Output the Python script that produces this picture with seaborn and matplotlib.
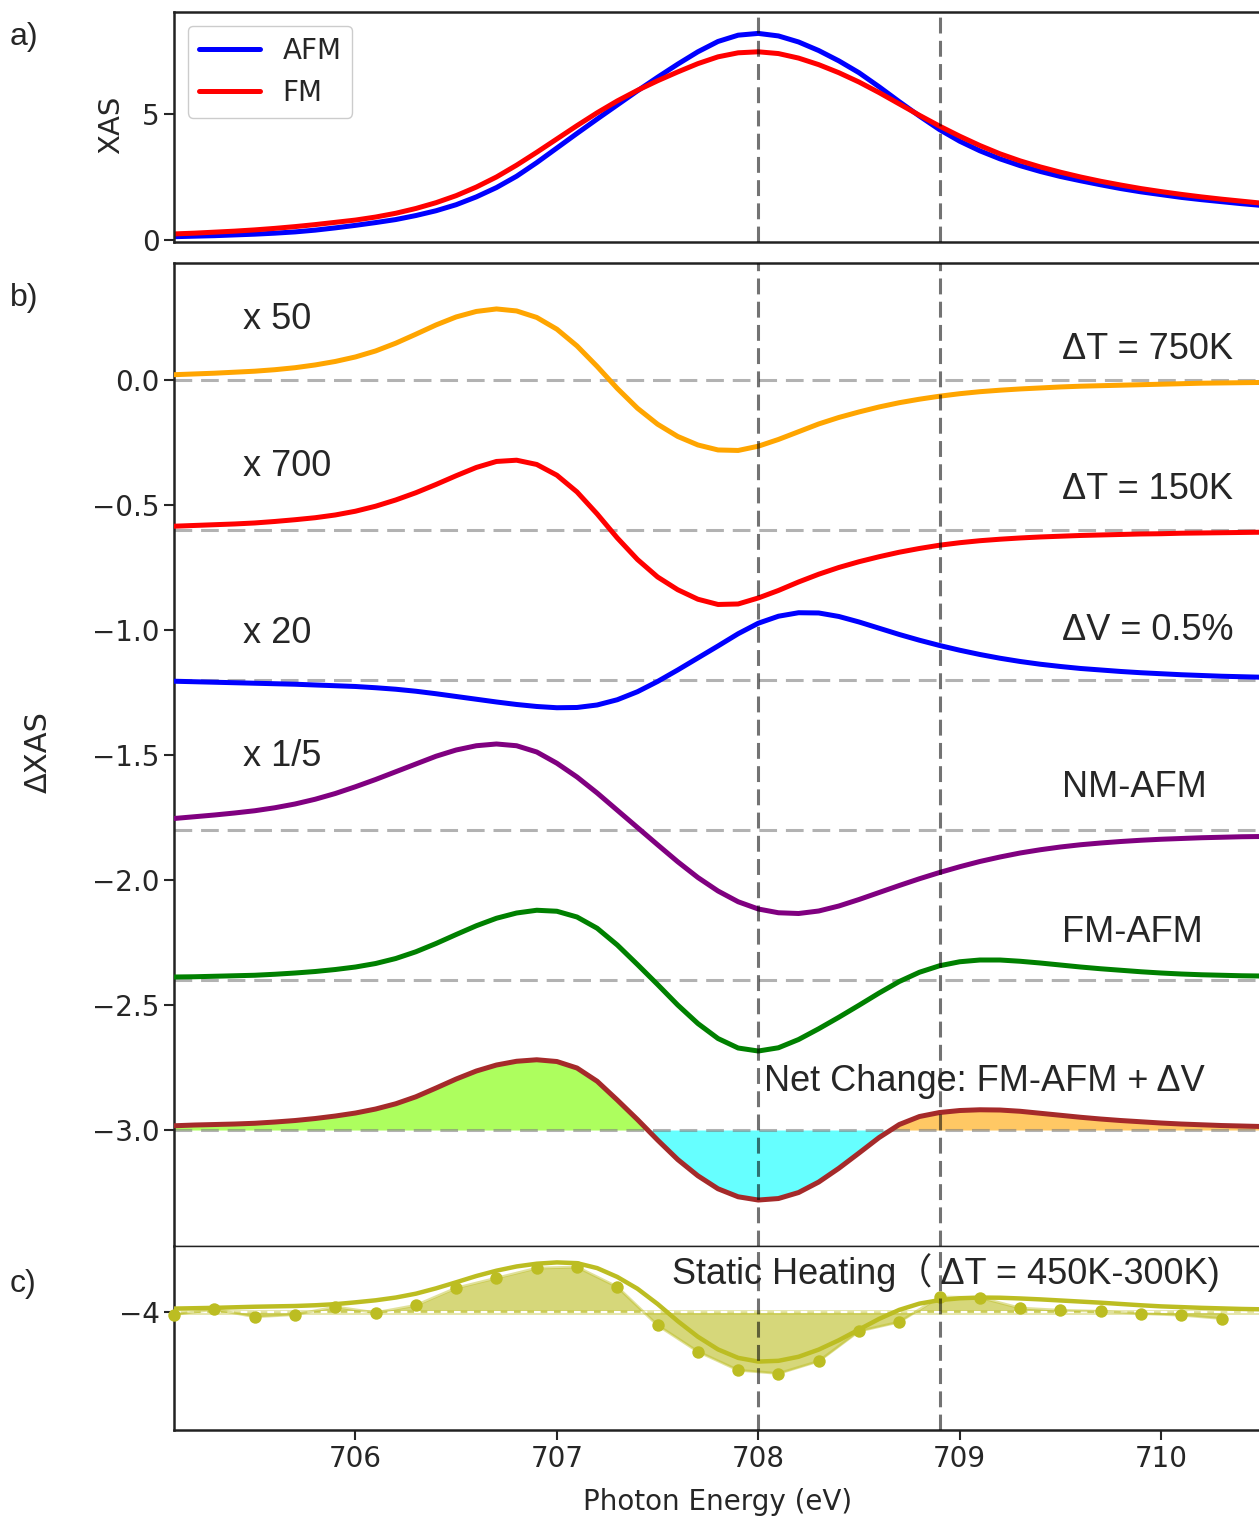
import matplotlib
matplotlib.use("Agg")
import matplotlib.pyplot as plt
import numpy as np
import pandas as pd
import seaborn as sns

# ---------------- data ----------------
energy = [705.1, 705.2, 705.3, 705.4, 705.5, 705.6, 705.7, 705.8, 705.9, 706.0,
          706.1, 706.2, 706.3, 706.4, 706.5, 706.6, 706.7, 706.8, 706.9, 707.0,
          707.1, 707.2, 707.3, 707.4, 707.5, 707.6, 707.7, 707.8, 707.9, 708.0,
          708.1, 708.2, 708.3, 708.4, 708.5, 708.6, 708.7, 708.8, 708.9, 709.0,
          709.1, 709.2, 709.3, 709.4, 709.5, 709.6, 709.7, 709.8, 709.9, 710.0,
          710.1, 710.2, 710.3, 710.4, 710.5]

# panel a: XAS
xas_afm = [0.13, 0.15, 0.17, 0.20, 0.23, 0.27, 0.32, 0.39, 0.48, 0.58,
           0.69, 0.81, 0.97, 1.16, 1.40, 1.71, 2.08, 2.53, 3.07, 3.65,
           4.23, 4.80, 5.36, 5.92, 6.46, 6.98, 7.47, 7.88, 8.13, 8.20,
           8.10, 7.86, 7.52, 7.11, 6.64, 6.08, 5.49, 4.92, 4.38, 3.92,
           3.54, 3.22, 2.95, 2.72, 2.52, 2.35, 2.19, 2.04, 1.91, 1.80,
           1.69, 1.60, 1.52, 1.44, 1.37]
xas_fm = [0.24, 0.27, 0.31, 0.35, 0.40, 0.46, 0.53, 0.61, 0.70, 0.79,
          0.91, 1.06, 1.25, 1.48, 1.76, 2.10, 2.50, 2.97, 3.48, 4.01,
          4.54, 5.05, 5.52, 5.94, 6.32, 6.67, 7.00, 7.27, 7.43, 7.47,
          7.40, 7.22, 6.96, 6.64, 6.27, 5.85, 5.40, 4.95, 4.52, 4.12,
          3.75, 3.42, 3.14, 2.90, 2.69, 2.50, 2.33, 2.18, 2.04, 1.92,
          1.81, 1.71, 1.62, 1.54, 1.46]

# panel b: difference spectra (already offset as drawn)
d_t750 = [0.021, 0.024, 0.027, 0.031, 0.035, 0.041, 0.049, 0.060, 0.074, 0.092,
          0.116, 0.147, 0.183, 0.220, 0.252, 0.274, 0.284, 0.276, 0.250, 0.203,
          0.136, 0.054, -0.034, -0.113, -0.177, -0.226, -0.260, -0.280, -0.282, -0.265,
          -0.238, -0.207, -0.176, -0.150, -0.128, -0.108, -0.091, -0.077, -0.065, -0.055,
          -0.047, -0.041, -0.036, -0.032, -0.028, -0.025, -0.023, -0.021, -0.019, -0.017,
          -0.015, -0.013, -0.012, -0.011, -0.010]
d_t150 = [-0.585, -0.582, -0.579, -0.576, -0.572, -0.566, -0.559, -0.551, -0.540, -0.525,
          -0.505, -0.480, -0.451, -0.418, -0.383, -0.350, -0.326, -0.321, -0.338, -0.381,
          -0.448, -0.536, -0.632, -0.718, -0.788, -0.839, -0.877, -0.898, -0.896, -0.872,
          -0.842, -0.808, -0.777, -0.750, -0.727, -0.707, -0.689, -0.674, -0.661, -0.651,
          -0.643, -0.637, -0.632, -0.628, -0.625, -0.622, -0.620, -0.618, -0.616, -0.615,
          -0.613, -0.612, -0.611, -0.610, -0.609]
d_vol = [-1.205, -1.207, -1.209, -1.211, -1.213, -1.215, -1.217, -1.220, -1.223, -1.226,
         -1.231, -1.237, -1.245, -1.255, -1.266, -1.277, -1.288, -1.298, -1.306, -1.311,
         -1.310, -1.300, -1.279, -1.247, -1.206, -1.160, -1.112, -1.064, -1.015, -0.973,
         -0.945, -0.931, -0.932, -0.946, -0.968, -0.993, -1.018, -1.041, -1.062, -1.081,
         -1.098, -1.113, -1.126, -1.137, -1.146, -1.154, -1.160, -1.166, -1.171, -1.175,
         -1.179, -1.182, -1.185, -1.187, -1.189]
d_nm_afm = [-1.754, -1.747, -1.740, -1.732, -1.723, -1.711, -1.696, -1.677, -1.654, -1.627,
            -1.598, -1.567, -1.536, -1.505, -1.480, -1.463, -1.456, -1.463, -1.488, -1.533,
            -1.588, -1.652, -1.721, -1.790, -1.859, -1.927, -1.990, -2.044, -2.087, -2.116,
            -2.131, -2.134, -2.124, -2.104, -2.078, -2.050, -2.022, -1.995, -1.970, -1.947,
            -1.926, -1.908, -1.892, -1.879, -1.868, -1.859, -1.852, -1.846, -1.841, -1.837,
            -1.834, -1.831, -1.829, -1.827, -1.826]
d_fm_afm = [-2.388, -2.387, -2.385, -2.383, -2.381, -2.377, -2.372, -2.366, -2.358, -2.348,
            -2.334, -2.314, -2.287, -2.254, -2.218, -2.183, -2.153, -2.132, -2.121, -2.125,
            -2.148, -2.193, -2.260, -2.338, -2.418, -2.500, -2.574, -2.634, -2.672, -2.684,
            -2.671, -2.638, -2.595, -2.549, -2.501, -2.452, -2.406, -2.369, -2.343, -2.327,
            -2.320, -2.320, -2.325, -2.332, -2.340, -2.348, -2.355, -2.361, -2.367, -2.372,
            -2.376, -2.379, -2.381, -2.383, -2.384]
d_net = [-2.983, -2.980, -2.978, -2.976, -2.973, -2.968, -2.962, -2.954, -2.944, -2.932,
         -2.916, -2.895, -2.867, -2.832, -2.796, -2.764, -2.740, -2.725, -2.719, -2.726,
         -2.752, -2.805, -2.880, -2.958, -3.040, -3.118, -3.183, -3.235, -3.267, -3.280,
         -3.274, -3.250, -3.208, -3.153, -3.092, -3.030, -2.978, -2.946, -2.930, -2.922,
         -2.919, -2.920, -2.925, -2.933, -2.941, -2.949, -2.956, -2.962, -2.967, -2.972,
         -2.976, -2.979, -2.982, -2.984, -2.986]
baselines = [0.0, -0.6, -1.2, -1.8, -2.4, -3.0]

# panel c: static heating
static_curve = [-3.980, -3.978, -3.976, -3.973, -3.970, -3.968, -3.966, -3.962, -3.956, -3.946,
                -3.935, -3.920, -3.899, -3.870, -3.837, -3.803, -3.774, -3.751, -3.736, -3.729,
                -3.733, -3.760, -3.808, -3.872, -3.955, -4.048, -4.133, -4.202, -4.248, -4.268,
                -4.264, -4.242, -4.203, -4.152, -4.094, -4.036, -3.987, -3.953, -3.934, -3.924,
                -3.920, -3.921, -3.925, -3.930, -3.936, -3.942, -3.948, -3.955, -3.962, -3.968,
                -3.972, -3.976, -3.979, -3.982, -3.984]
static_e = [705.1, 705.3, 705.5, 705.7, 705.9, 706.1, 706.3, 706.5, 706.7, 706.9,
            707.1, 707.3, 707.5, 707.7, 707.9, 708.1, 708.3, 708.5, 708.7, 708.9,
            709.1, 709.3, 709.5, 709.7, 709.9, 710.1, 710.3]
static_pts = [-4.013, -3.984, -4.025, -4.013, -3.971, -4.002, -3.962, -3.868, -3.814, -3.760,
              -3.754, -3.862, -4.071, -4.214, -4.315, -4.333, -4.266, -4.103, -4.053, -3.917,
              -3.920, -3.977, -3.989, -3.995, -4.007, -4.016, -4.034]

vlines = [708.0, 708.9]
xticks = [706, 707, 708, 709, 710]

# ---------------- style ----------------
sns.set_theme(style="ticks")
plt.rcParams["font.family"] = ["DejaVu Sans"]
ARIAL = ["Liberation Sans", "Noto Sans CJK SC", "DejaVu Sans"]
OLIVE = "#bcbd22"

fig = plt.figure(figsize=(12.59, 15.19), dpi=100)
L, W = 0.1382, 0.8618
axa = fig.add_axes([L, 0.8407, W, 0.1514])
axb = fig.add_axes([L, 0.1797, W, 0.6472])
axc = fig.add_axes([L, 0.0586, W, 0.1211])
XLIM = (705.099, 710.486)

def vdash(ax):
    for v in vlines:
        ax.axvline(v, color="black", alpha=0.55, lw=2.2, dashes=(5.2, 2.4), zorder=6)

# ---------------- panel a ----------------
n = len(energy)
dfa = pd.DataFrame({"Energy": energy * 2, "XAS": xas_afm + xas_fm,
                    "state": ["AFM"] * n + ["FM"] * n})
sns.lineplot(data=dfa, x="Energy", y="XAS", hue="state",
             palette={"AFM": "blue", "FM": "red"}, lw=3.6, ax=axa)
sns.move_legend(axa, "upper left", title=None, fontsize=20, frameon=True,
                handlelength=2.2, borderpad=0.4, labelspacing=0.5, fancybox=True,
                edgecolor="#cccccc", framealpha=1)
axa.set_xlim(*XLIM)
axa.set_ylim(-0.08, 9.05)
axa.set_yticks([0, 5])
axa.set_xlabel("")
axa.set_ylabel("")
axa.tick_params(axis="x", bottom=False, labelbottom=False)
axa.tick_params(axis="y", labelsize=20, length=7, width=1.5)
vdash(axa)

# ---------------- panel b ----------------
names = ["t750", "t150", "vol", "nm", "fm", "net"]
series = [d_t750, d_t150, d_vol, d_nm_afm, d_fm_afm, d_net]
colors = ["orange", "red", "blue", "purple", "green", "#a52a2a"]
dfb = pd.DataFrame({"Energy": energy * len(names),
                    "dXAS": sum(series, []),
                    "series": sum([[nm] * n for nm in names], [])})
e_arr = np.array(energy)
net_arr = np.array(d_net)
axb.fill_between(energy, d_net, -3.0, where=(net_arr >= -3.0) & (e_arr < 708.0),
                 interpolate=True, color="#adfe5e", lw=0, zorder=1)
axb.fill_between(energy, d_net, -3.0, where=(net_arr <= -3.0),
                 interpolate=True, color="#66ffff", lw=0, zorder=1)
axb.fill_between(energy, d_net, -3.0, where=(net_arr >= -3.0) & (e_arr > 708.0),
                 interpolate=True, color="#ffc864", lw=0, zorder=1)
for b in baselines:
    axb.axhline(b, color="#808080", alpha=0.6, lw=2.2, dashes=(5.8, 2.9), zorder=2)
sns.lineplot(data=dfb, x="Energy", y="dXAS", hue="series",
             palette=dict(zip(names, colors)), lw=3.6, legend=False, ax=axb, zorder=4)
vdash(axb)
axb.set_xlim(*XLIM)
axb.set_ylim(-3.464, 0.468)
axb.set_yticks([0.0, -0.5, -1.0, -1.5, -2.0, -2.5, -3.0])
axb.set_xlabel("")
axb.set_ylabel("")
axb.tick_params(axis="x", bottom=False, labelbottom=False)
axb.tick_params(axis="y", labelsize=20, length=7, width=1.5)

left_txt = [("x 50", 0.240), ("x 700", -0.345), ("x 20", -1.015), ("x 1/5", -1.508)]
for t, y in left_txt:
    axb.text(705.44, y, t, fontsize=26, family=ARIAL, ha="left", va="center")
right_txt = [("ΔT = 750K", 0.120), ("ΔT = 150K", -0.440), ("ΔV = 0.5%", -1.002),
             ("NM-AFM", -1.630), ("FM-AFM", -2.208)]
for t, y in right_txt:
    axb.text(709.51, y, t, fontsize=26, family=ARIAL, ha="left", va="center")
axb.text(708.03, -2.806, "Net Change: FM-AFM + ΔV", fontsize=26, family=ARIAL,
         ha="left", va="center", zorder=7)

# ---------------- panel c ----------------
dfc_line = pd.DataFrame({"Energy": energy, "val": static_curve})
dfc_pts = pd.DataFrame({"Energy": static_e, "val": static_pts})
axc.fill_between(static_e, static_pts, -4.0, color=OLIVE, alpha=0.6, lw=0, zorder=1)
axc.axhline(-4.0, color=OLIVE, alpha=0.4, lw=3.5, zorder=2)
axc.axhline(-4.0, color="white", lw=1.6, dashes=(3, 3), zorder=2)
axc.plot(static_e, static_pts, color=OLIVE, alpha=0.45, lw=2, zorder=2)
sns.lineplot(data=dfc_line, x="Energy", y="val", color=OLIVE, lw=3.2, ax=axc, zorder=4)
sns.scatterplot(data=dfc_pts, x="Energy", y="val", color=OLIVE, s=80, linewidth=0,
                ax=axc, zorder=5, clip_on=False)
vdash(axc)
axc.set_xlim(*XLIM)
axc.set_ylim(-4.64, -3.64)
axc.set_yticks([-4])
axc.set_xticks(xticks)
axc.set_xlabel("")
axc.set_ylabel("")
axc.tick_params(axis="both", labelsize=20, length=7, width=1.5)
axc.text(707.571, -3.785, "Static Heating（ ΔT = 450K-300K)", fontsize=26,
         family=ARIAL, ha="left", va="center", zorder=7)

# spines
for ax in (axa, axb, axc):
    ax.spines["right"].set_visible(False)
    for s in ("left", "top", "bottom"):
        ax.spines[s].set_linewidth(1.8)
        ax.spines[s].set_color("#222222")
axb.spines["bottom"].set_linewidth(1.0)
axc.spines["top"].set_linewidth(1.0)

# labels
fig.text(0.0882, 0.9177, "XAS", rotation=90, fontsize=21, ha="center", va="center")
fig.text(0.0302, 0.5049, "ΔXAS", rotation=90, fontsize=22, ha="center", va="center")
fig.text(0.5703, 0.0112, "Photon Energy (eV)", fontsize=20, ha="center", va="center")
for lab, y in [("a)", 0.9756), ("b)", 0.8038), ("c)", 0.1547)]:
    fig.text(0.008, y, lab, fontsize=23, family=ARIAL, ha="left", va="center")

fig.savefig("out.png", dpi=100)
